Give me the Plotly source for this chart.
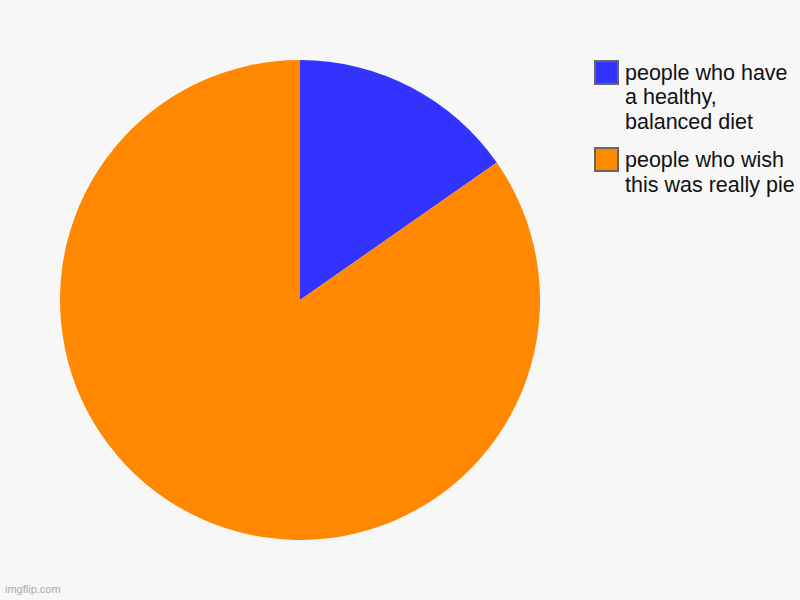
import plotly.graph_objects as go

labels = ["people who have a healthy, balanced diet", "people who wish this was really pie"]
legend_lines = [["people who have", "a healthy,", "balanced diet"], ["people who wish", "this was really pie"]]
values = [15.3, 84.7]
colors = ["#3333FF", "#FF8800"]

W, H = 800, 600
fig = go.Figure(go.Pie(
    labels=labels, values=values, sort=False, direction="clockwise", rotation=0,
    marker=dict(colors=colors, line=dict(width=0)),
    textinfo="none", hoverinfo="label+percent", showlegend=False,
    domain=dict(x=[60 / W, 540 / W], y=[1 - 540 / H, 1 - 60 / H]),
))

sq_tops = [61, 148]
first_baselines = [80, 167]
line_gap = 25
FS = 21.5
for i, lines in enumerate(legend_lines):
    y0 = sq_tops[i]
    fig.add_shape(type="rect", xref="paper", yref="paper",
                  x0=595 / W, x1=618 / W, y0=1 - (y0 + 23) / H, y1=1 - y0 / H,
                  fillcolor=colors[i], line=dict(color="#666666", width=2))
    for j, txt in enumerate(lines):
        base = first_baselines[i] + j * line_gap
        fig.add_annotation(x=623 / W, y=1 - (base - 7.5) / H, xref="paper", yref="paper",
                           text=txt, showarrow=False, xanchor="left", yanchor="middle",
                           align="left",
                           font=dict(family="Liberation Sans, Arial", size=FS, color="#111111"))

fig.add_annotation(x=3 / W, y=1 - 597 / H, xref="paper", yref="paper", text="imgflip.com",
                   showarrow=False, xanchor="left", yanchor="bottom",
                   font=dict(family="Liberation Sans, Arial", size=11, color="#aaaaaa"))

fig.update_layout(width=W, height=H, margin=dict(l=0, r=0, t=0, b=0),
                  paper_bgcolor="#F7F7F7", plot_bgcolor="#F7F7F7")
fig.write_html("out.html", config={"displayModeBar": False},
               post_script="document.body.style.margin='0';document.body.style.overflow='hidden';")
